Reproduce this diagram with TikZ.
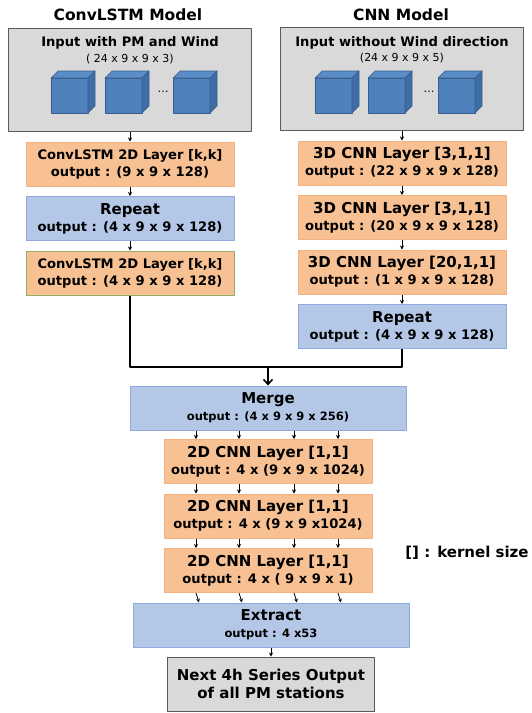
\documentclass[tikz,border=0pt]{standalone}
\usepackage{fontspec}
\setmainfont{DejaVu Sans}
\usetikzlibrary{arrows.meta}
\definecolor{gfill}{HTML}{D9D9D9}
\definecolor{gline}{HTML}{595959}
\definecolor{ofill}{HTML}{F8C193}
\definecolor{oline}{HTML}{F4B183}
\definecolor{bfill}{HTML}{B4C7E7}
\definecolor{bline}{HTML}{8FAADC}
\definecolor{cfront}{HTML}{4F81BD}
\definecolor{ctop}{HTML}{5A8CC8}
\definecolor{cside}{HTML}{3F6DA6}
\definecolor{cline}{HTML}{385D8A}
\newcommand\fttl{\fontsize{15.5}{18}\selectfont\bfseries}
\newcommand\fbig{\fontsize{15}{18}\selectfont\bfseries}
\newcommand\fmid{\fontsize{13.1}{17}\selectfont\bfseries}
\newcommand\fsml{\fontsize{11.5}{13}\selectfont\bfseries}
\newcommand\ftny{\fontsize{11}{12}\selectfont}
\begin{document}
\begin{tikzpicture}[x=1pt,y=-1pt,>=Stealth,line join=round,
  lay/.style={rectangle,inner sep=0pt,align=center,minimum width=208,minimum height=44,font=\fmid},
  gbox/.style={lay,draw=gline,fill=gfill,line width=1},
  obox/.style={lay,draw=oline,fill=ofill,line width=1},
  bbox/.style={lay,draw=bline,fill=bfill,line width=1},
  cube/.style={draw=cline,line width=.6},
  arr/.style={-{Stealth[length=4pt,width=4pt]},line width=.8}]
\useasboundingbox (0,0) rectangle (532,713);
\node (tL) at (128,15) {\fttl ConvLSTM Model};
\node (tR) at (401,15) {\fttl CNN Model};
\node[gbox,minimum width=243,minimum height=103] (inL) at (130,79.5) {};
\node[gbox,minimum width=243,minimum height=103] (inR) at (402,78.5) {};
\node (inLa) at (130,43) {\fmid Input with PM and Wind};
\node (inLb) at (130,59) {\ftny ( 24 x 9 x 9 x 3)};
\node (inRa) at (402,43) {\fmid Input without Wind direction};
\node (inRb) at (402,58) {\ftny (24 x 9 x 9 x 5)};
\foreach \x in {51,105,173,315,368,438}{
  \filldraw[cube,fill=cfront] (\x,78) rectangle ++(37,35);
  \filldraw[cube,fill=ctop] (\x,78)--++(7,-7)--++(37,0)--++(-7,7)--cycle;
  \filldraw[cube,fill=cside] (\x+37,78)--++(7,-7)--++(0,35)--++(-7,7)--cycle;}
\node (dL) at (163,92) {\ftny\dots};
\node (dR) at (429,92) {\ftny\dots};
\node[obox] (cl1) at (130,164) {ConvLSTM 2D Layer [k,k]\\ output : (9 x 9 x 128)};
\node[bbox] (rpL) at (130,218.5) {{\fbig Repeat}\\ output : (4 x 9 x 9 x 128)};
\node[obox,draw=green!35!oline!60!gray] (cl2) at (130,273) {ConvLSTM 2D Layer [k,k]\\ output : (4 x 9 x 9 x 128)};
\node[obox] (c1) at (402,163) {{\fbig 3D CNN Layer [3,1,1]}\\ output : (22 x 9 x 9 x 128)};
\node[obox] (c2) at (402,217.5) {{\fbig 3D CNN Layer [3,1,1]}\\ output : (20 x 9 x 9 x 128)};
\node[obox] (c3) at (402,272) {{\fbig 3D CNN Layer [20,1,1]}\\ output : (1 x 9 x 9 x 128)};
\node[bbox] (rpR) at (402,326.5) {{\fbig Repeat}\\ output : (4 x 9 x 9 x 128)};
\node[bbox,minimum width=276] (mg) at (268,408) {{\fbig Merge}\\ {\fsml output : (4 x 9 x 9 x 256)}};
\node[obox] (d1) at (268,461.5) {{\fbig 2D CNN Layer [1,1]}\\ output : 4 x (9 x 9 x 1024)};
\node[obox] (d2) at (268,516) {{\fbig 2D CNN Layer [1,1]}\\ output : 4 x (9 x 9 x1024)};
\node[obox] (d3) at (268,570.5) {{\fbig 2D CNN Layer [1,1]}\\ output : 4 x ( 9 x 9 x 1)};
\node[bbox,minimum width=276] (ex) at (271,625) {{\fbig Extract}\\ {\fsml output : 4 x53}};
\node[gbox,minimum width=207,minimum height=54,font=\fbig] (out) at (271,684) {Next 4h Series Output\\ of all PM stations};
\node (ks) at (467,553) {\fbig [] : kernel size};
\coordinate (j) at (268,367);
\foreach \a/\b in {inL/cl1,cl1/rpL,rpL/cl2,inR/c1,c1/c2,c2/c3,c3/rpR,ex/out}
  \draw[arr] (\a) -- (\b);
\foreach \a/\b in {mg/d1,d1/d2,d2/d3,d3/ex}
  \foreach \dx in {-72,-29,26,70}
    \draw[arr] ([xshift=\dx]\a.south) -- ([xshift=\dx]\b.north);
\draw[line width=1.6] (cl2.south) |- (j) -| (rpR.south);
\draw[-{Straight Barb[length=5pt,width=9pt]},line width=1.6] (j) -- (mg.north);
\end{tikzpicture}
\end{document}
